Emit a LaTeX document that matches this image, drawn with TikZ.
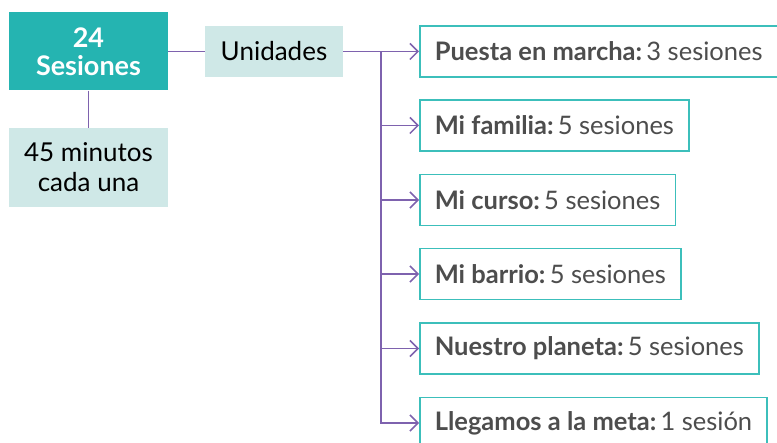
\documentclass[tikz,border=0pt]{standalone}
\usepackage{fontspec}
\setmainfont{Lato}
\usetikzlibrary{positioning,arrows.meta,calc}
\definecolor{teal1}{HTML}{25B4B1}
\definecolor{teallight}{HTML}{CFE8E7}
\definecolor{tealline}{HTML}{3CBFBB}
\definecolor{lilac}{HTML}{7E62AE}
\definecolor{txtgray}{HTML}{4D4D4D}
\tikzset{
	head/.style={fill=teal1, text=white, font=\bfseries\fontsize{27}{28}\selectfont, align=center, minimum width=159, minimum height=78, inner sep=0},
	info/.style={fill=teallight, text=black, font=\fontsize{26}{30}\selectfont, align=center, inner sep=0},
	unit/.style={draw=tealline, line width=1.6pt, fill=white, text=txtgray, font=\fontsize{25.5}{30}\selectfont, anchor=west, minimum height=51, inner xsep=15, inner ysep=0},
	edge/.style={color=lilac, line width=1.5pt},
	diredge/.style={->,>={Straight Barb[width=16pt,length=8pt]},color=lilac, line width=1.5pt}
}

\begin{document}
\begin{tikzpicture}[x=1pt, y=1pt]
	\useasboundingbox (0,0) rectangle (777,-443);
	\clip (0,0) rectangle (777,-443);
	
	\node[head] (S) at (88.5,-51.5) {24\\Sesiones};
	\node[info, minimum width=159, minimum height=79] (M) at (88.5,-167.5) {45 minutos\\cada una};
	\node[info, minimum width=138, minimum height=51] (U) at (274,-51.5) {Unidades};
	
	\node[unit] (P1) at (419,-51.5) {\textbf{Puesta en marcha:}\,3 sesiones};
	\node[unit] (P2) at (419,-125.5) {\textbf{Mi familia:}\,5 sesiones};
	\node[unit] (P3) at (419,-200) {\textbf{Mi curso:}\,5 sesiones};
	\node[unit] (P4) at (419,-274) {\textbf{Mi barrio:}\,5 sesiones};
	\node[unit] (P5) at (419,-348.5) {\textbf{Nuestro planeta:}\,5 sesiones};
	\node[unit] (P6) at (419,-423) {\textbf{Llegamos a la meta:}\,1 sesión};
	
	\coordinate (T) at (381,-51.5);
	
	\draw[edge] (S) -- (U);
	\draw[edge] (S) -- (M);
	\draw[diredge] (U) -- (P1);
	\draw[diredge] (T) |- (P2);
	\draw[diredge] (T) |- (P3);
	\draw[diredge] (T) |- (P4);
	\draw[diredge] (T) |- (P5);
	\draw[diredge] (T) |- (P6);
\end{tikzpicture}
\end{document}
